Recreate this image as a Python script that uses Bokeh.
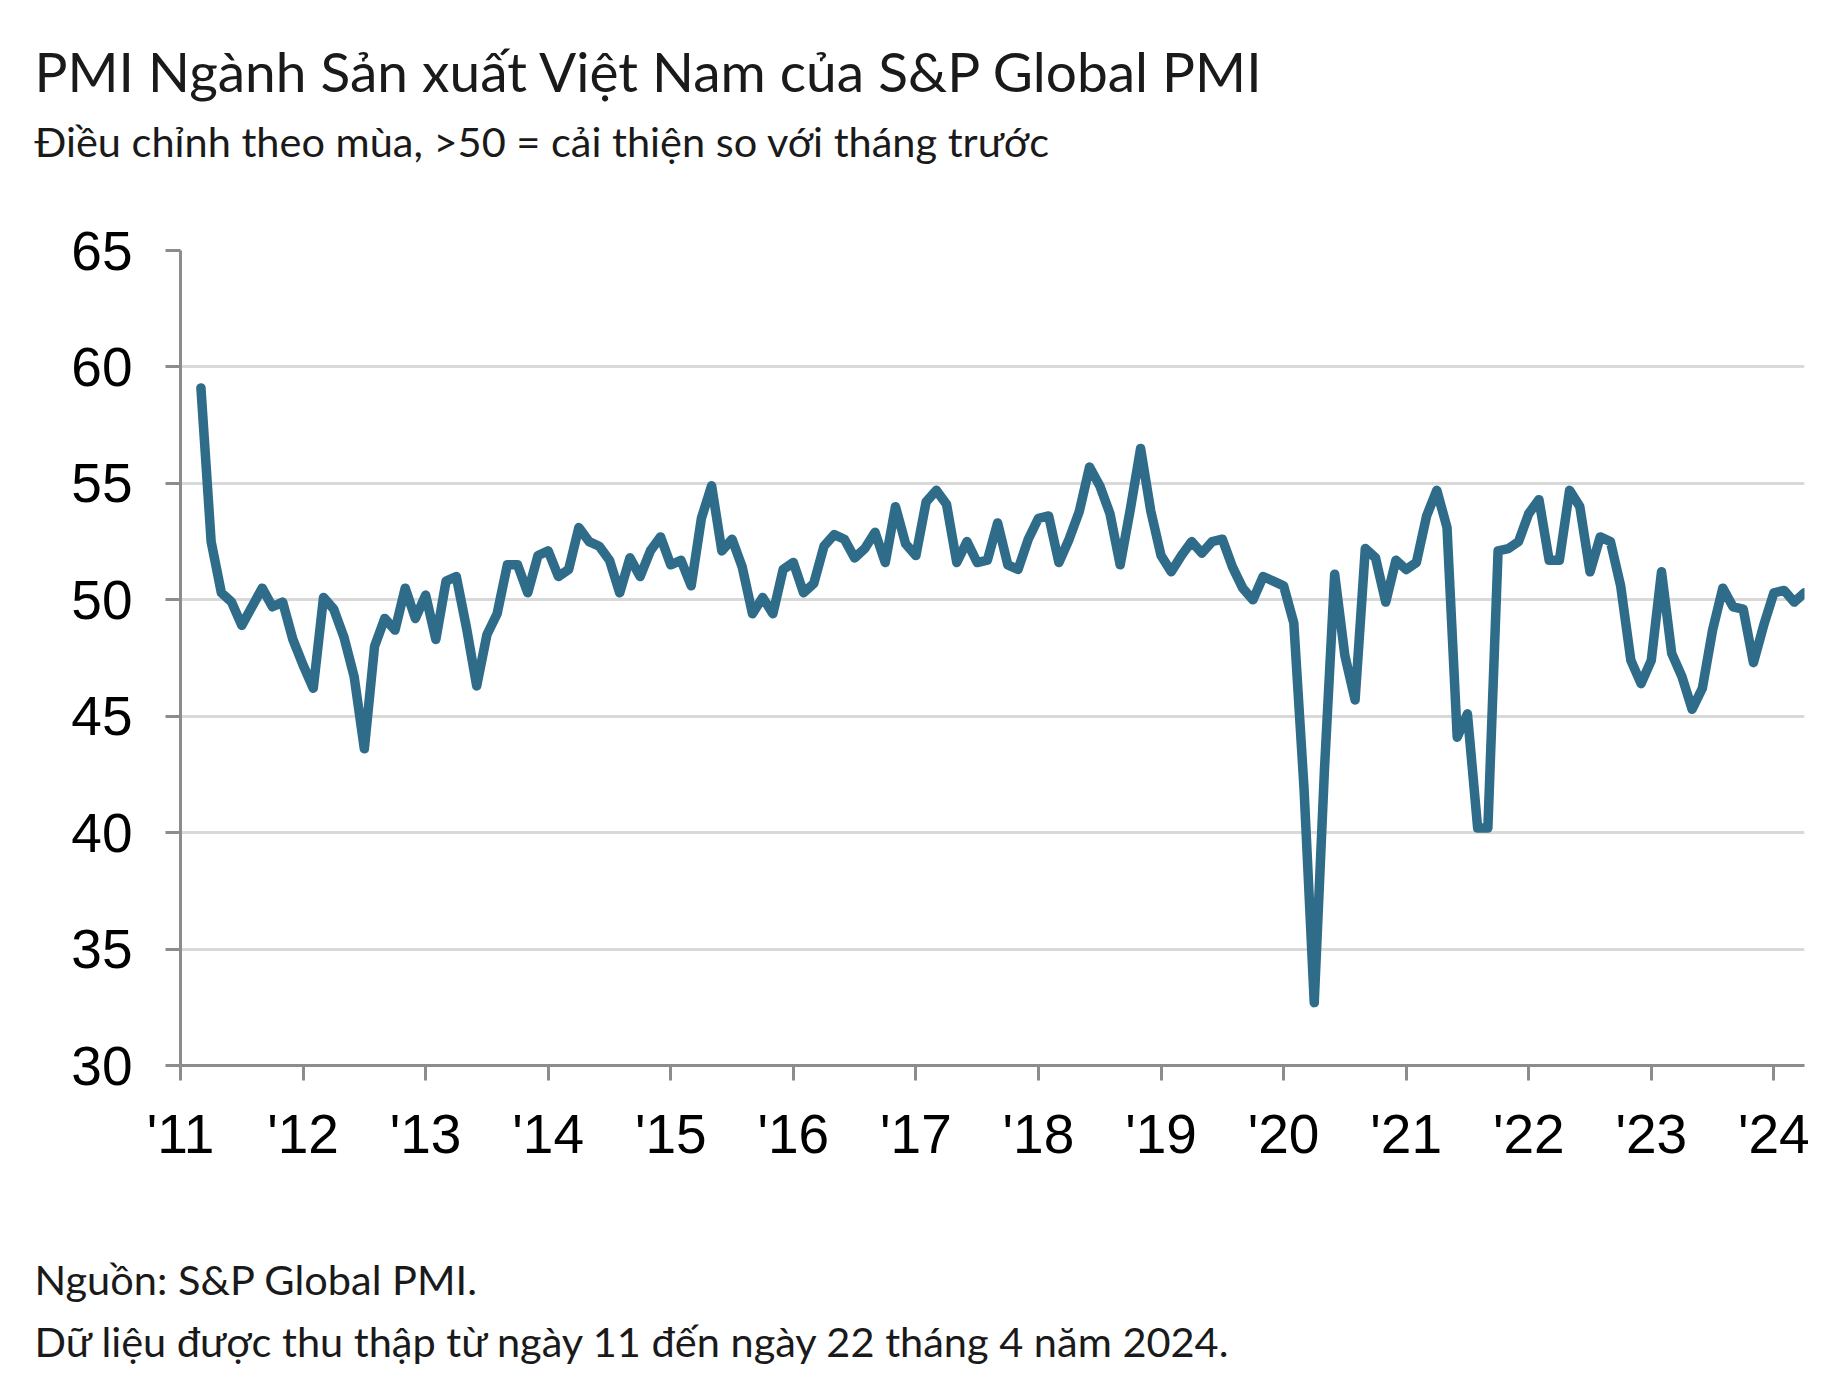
from bokeh.plotting import figure
from bokeh.models import Range1d, FixedTicker, Title, ColumnDataSource
from bokeh.embed import file_html
from bokeh.resources import INLINE

# ---- data: monthly PMI, March 2011 .. April 2024 ----
first_month = 2  # month index of March 2011 (Jan 2011 = 0)
pmi_2011 = [59.1, 52.5, 50.3, 49.9, 48.9, 49.7, 50.5, 49.7, 49.9, 48.3]
pmi_2012 = [47.2, 46.2, 50.1, 49.6, 48.4, 46.7, 43.6, 48.0, 49.2, 48.7, 50.5, 49.2]
pmi_2013 = [50.2, 48.3, 50.8, 51.0, 48.8, 46.3, 48.5, 49.4, 51.5, 51.5, 50.3, 51.9]
pmi_2014 = [52.1, 51.0, 51.3, 53.1, 52.5, 52.3, 51.7, 50.3, 51.8, 51.0, 52.1, 52.7]
pmi_2015 = [51.5, 51.7, 50.6, 53.5, 54.9, 52.1, 52.6, 51.4, 49.4, 50.1, 49.4, 51.3]
pmi_2016 = [51.6, 50.3, 50.7, 52.3, 52.8, 52.6, 51.8, 52.2, 52.9, 51.6, 54.0, 52.4]
pmi_2017 = [51.9, 54.2, 54.7, 54.1, 51.6, 52.5, 51.6, 51.7, 53.3, 51.5, 51.3, 52.6]
pmi_2018 = [53.5, 53.6, 51.6, 52.6, 53.8, 55.7, 54.9, 53.7, 51.5, 53.9, 56.5, 53.8]
pmi_2019 = [51.9, 51.2, 51.9, 52.5, 52.0, 52.5, 52.6, 51.4, 50.5, 50.0, 51.0, 50.8]
pmi_2020 = [50.6, 49.0, 41.9, 32.7, 42.7, 51.1, 47.6, 45.7, 52.2, 51.8, 49.9, 51.7]
pmi_2021 = [51.3, 51.6, 53.6, 54.7, 53.1, 44.1, 45.1, 40.2, 40.2, 52.1, 52.2, 52.5]
pmi_2022 = [53.7, 54.3, 51.7, 51.7, 54.7, 54.0, 51.2, 52.7, 52.5, 50.6, 47.4, 46.4]
pmi_2023 = [47.4, 51.2, 47.7, 46.7, 45.3, 46.2, 48.7, 50.5, 49.7, 49.6, 47.3, 48.9]
pmi_2024 = [50.3, 50.4, 49.9, 50.3]

year_labels = ["'11", "'12", "'13", "'14", "'15", "'16", "'17", "'18",
               "'19", "'20", "'21", "'22", "'23", "'24"]
y_ticks = [30, 35, 40, 45, 50, 55, 60, 65]

title_text = "PMI Ngành Sản xuất Việt Nam của S&P Global PMI"
subtitle_text = "Điều chỉnh theo mùa, >50 = cải thiện so với tháng trước"
source_text = "Nguồn: S&P Global PMI."
note_text = "Dữ liệu được thu thập từ ngày 11 đến ngày 22 tháng 4 năm 2024."

values = (pmi_2011 + pmi_2012 + pmi_2013 + pmi_2014 + pmi_2015 + pmi_2016 +
          pmi_2017 + pmi_2018 + pmi_2019 + pmi_2020 + pmi_2021 + pmi_2022 +
          pmi_2023 + pmi_2024)
months = list(range(first_month, first_month + len(values)))
year_ticks = [12 * i for i in range(len(year_labels))]

# ---- layout ----
W, H = 1836, 1390
L, R, T = 180, 32, 250
B = H - 1065

p = figure(width=W, height=H, output_backend="svg", toolbar_location=None,
           x_range=Range1d(0, months[-1]), y_range=Range1d(y_ticks[0], y_ticks[-1]),
           min_border_left=L, min_border_right=R, min_border_top=T,
           min_border_bottom=B)
p.outline_line_color = None
p.background_fill_color = "white"
p.border_fill_color = "white"

src = ColumnDataSource(dict(m=months, v=values))
p.line(x="m", y="v", source=src, line_color="#2f6c89", line_width=9.5,
       line_join="round", line_cap="round")

axis_col = "#8c8c8c"
for ax in (p.xaxis[0], p.yaxis[0]):
    ax.axis_line_color = axis_col
    ax.axis_line_width = 3
    ax.major_tick_line_color = axis_col
    ax.major_tick_line_width = 3
    ax.major_tick_out = 15
    ax.major_tick_in = 0
    ax.minor_tick_line_color = None
    ax.major_label_text_font = "Liberation Sans"
    ax.major_label_text_font_size = "55px"
    ax.major_label_text_color = "black"

p.xaxis.ticker = FixedTicker(ticks=year_ticks)
p.xaxis.major_label_overrides = {t: l for t, l in zip(year_ticks, year_labels)}
p.xaxis.major_label_standoff = 22
p.yaxis.ticker = FixedTicker(ticks=y_ticks)
p.yaxis.major_label_standoff = 33

p.xgrid.grid_line_color = None
p.ygrid.ticker = FixedTicker(ticks=y_ticks)
p.ygrid.grid_line_color = "#d9d9d9"
p.ygrid.grid_line_width = 3

TXT = "#1a1a1a"
OFF = -146


def make_title(txt, size, standoff):
    return Title(text=txt, align="left", offset=OFF, text_font="Lato",
                 text_font_size=size, text_font_style="normal",
                 text_color=TXT, standoff=standoff)


def spacer(gap):
    # blank panel that only reserves vertical space
    return Title(text=" ", text_font_size="2px", text_color="white",
                 standoff=gap - 4)


# panels listed from the frame outward
p.add_layout(spacer(74), "above")
p.add_layout(make_title(subtitle_text, "41.5px", 21), "above")
p.add_layout(make_title(title_text, "55px", 0), "above")

p.add_layout(spacer(74), "below")
p.add_layout(make_title(source_text, "41.5px", 20), "below")
p.add_layout(make_title(note_text, "41.5px", 0), "below")

open("out.html", "w").write(file_html(p, INLINE))
